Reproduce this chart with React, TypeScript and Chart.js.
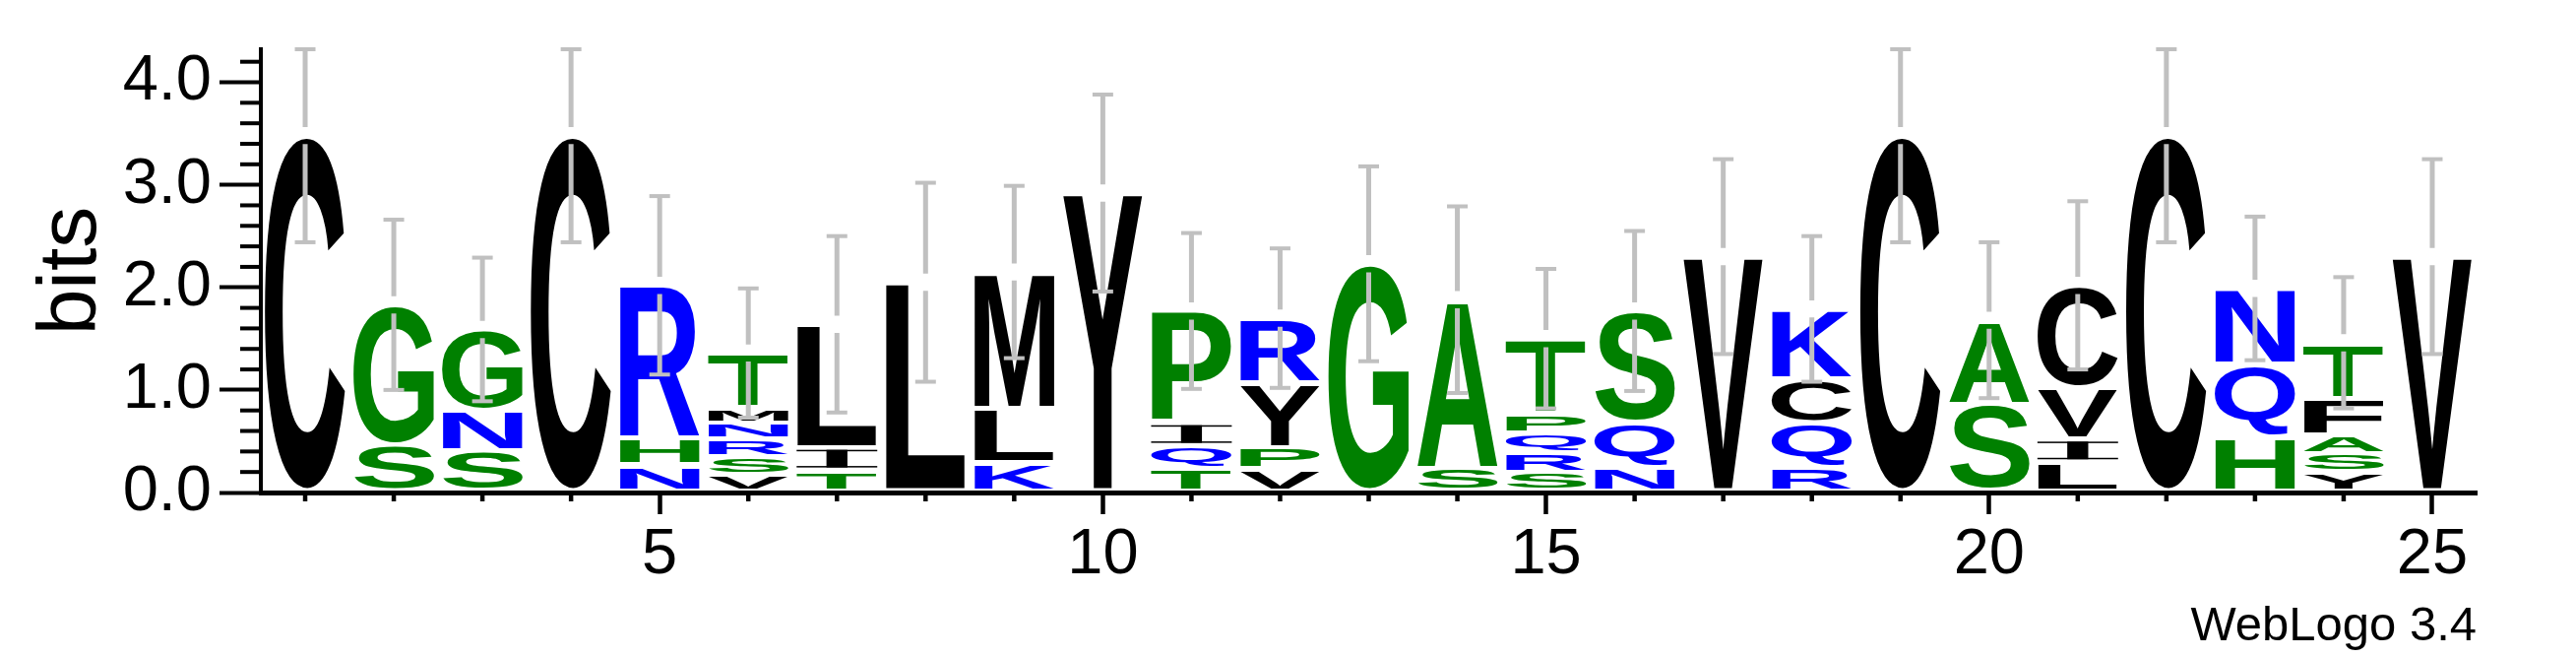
import { useEffect, useRef } from 'react';
import { Chart, registerables } from 'chart.js';

Chart.register(...registerables);

// sequence positions (x axis categories)
const positions = [
  '1', '2', '3', '4', '5', '6', '7', '8', '9', '10', '11', '12', '13',
  '14', '15', '16', '17', '18', '19', '20', '21', '22', '23', '24', '25',
];

// letters of each stack, bottom to top
const stackLetters = [
  ['C'],
  ['S', 'G'],
  ['S', 'N', 'G'],
  ['C'],
  ['N', 'H', 'R'],
  ['V', 'S', 'R', 'N', 'M', 'T'],
  ['T', 'I', 'L'],
  ['L'],
  ['K', 'L', 'M'],
  ['Y'],
  ['T', 'Q', 'I', 'P'],
  ['V', 'P', 'Y', 'R'],
  ['G'],
  ['S', 'A'],
  ['S', 'R', 'Q', 'P', 'T'],
  ['N', 'Q', 'S'],
  ['V'],
  ['R', 'Q', 'C', 'K'],
  ['C'],
  ['S', 'A'],
  ['L', 'I', 'V', 'C'],
  ['C'],
  ['H', 'Q', 'N'],
  ['Y', 'S', 'A', 'F', 'T'],
  ['V'],
];

// letter heights in bits, same order as stackLetters
const stackHeights = [
  [3.48],
  [0.47, 1.36],
  [0.41, 0.39, 0.79],
  [3.48],
  [0.27, 0.26, 1.49],
  [0.18, 0.17, 0.17, 0.16, 0.15, 0.53],
  [0.22, 0.22, 1.2],
  [2.05],
  [0.29, 0.53, 1.33],
  [2.92],
  [0.24, 0.22, 0.22, 1.09],
  [0.23, 0.21, 0.63, 0.63],
  [2.23],
  [0.24, 1.64],
  [0.2, 0.19, 0.19, 0.19, 0.73],
  [0.25, 0.43, 1.09],
  [2.3],
  [0.25, 0.43, 0.43, 0.68],
  [3.48],
  [0.86, 0.82],
  [0.3, 0.22, 0.5, 1.0],
  [3.48],
  [0.54, 0.71, 0.74],
  [0.2, 0.18, 0.18, 0.36, 0.54],
  [2.3],
];

// half length of the error bar on top of each stack (bits)
const errorBars = [
  1.04, 0.83, 0.7, 1.04, 0.87, 0.63, 0.86, 0.97, 0.84, 0.96, 0.76, 0.68, 0.95,
  0.91, 0.68, 0.78, 0.95, 0.71, 1.04, 0.76, 0.82, 1.04, 0.7, 0.64, 0.95,
];

const bitsMax = 4.3219; // log2(20)

const letterColors: Record<string, string> = {
  G: '#008000', S: '#008000', T: '#008000', H: '#008000', P: '#008000', A: '#008000',
  N: '#0000ff', R: '#0000ff', Q: '#0000ff', K: '#0000ff',
  C: '#000000', M: '#000000', V: '#000000', L: '#000000', I: '#000000', Y: '#000000', F: '#000000',
};

const FONT = '"Liberation Sans", Arial, Helvetica, sans-serif';
const isMajor = (v: number) => Math.abs(v - Math.round(v)) < 1e-6;

// stretch one glyph so its ink fills the box
function drawLetter(ctx: CanvasRenderingContext2D, ch: string, left: number, top: number, w: number, h: number) {
  if (h <= 0.5) return;
  ctx.save();
  ctx.fillStyle = letterColors[ch] || '#000';
  if (ch === 'I') {
    // serif style I, as WebLogo draws it
    const t = Math.max(1.5, h * 0.07);
    ctx.fillRect(left, top, w, t);
    ctx.fillRect(left, top + h - t, w, t);
    const sw = w * 0.26;
    ctx.fillRect(left + (w - sw) / 2, top, sw, h);
    ctx.restore();
    return;
  }
  ctx.font = `bold 100px ${FONT}`;
  ctx.textAlign = 'left';
  ctx.textBaseline = 'alphabetic';
  const m = ctx.measureText(ch);
  const inkW = m.actualBoundingBoxLeft + m.actualBoundingBoxRight;
  const inkH = m.actualBoundingBoxAscent + m.actualBoundingBoxDescent;
  ctx.translate(left, top);
  ctx.scale(w / inkW, h / inkH);
  ctx.fillText(ch, m.actualBoundingBoxLeft, m.actualBoundingBoxAscent);
  ctx.restore();
}

const logoPlugin = {
  id: 'logoPlugin',
  afterDatasetsDraw(chart: any) {
    const ctx: CanvasRenderingContext2D = chart.ctx;
    const yScale = chart.scales.y;
    const xScale = chart.scales.x;

    // letters
    chart.data.datasets.forEach((_ds: any, r: number) => {
      const meta = chart.getDatasetMeta(r);
      meta.data.forEach((el: any, i: number) => {
        const letter = stackLetters[i][r];
        if (!letter) return;
        const { x, y, base, width } = el.getProps(['x', 'y', 'base', 'width'], true);
        const insetBottom = r === 0 ? 4 : 2.5;
        const top = y + 2.5;
        const bottom = base - insetBottom;
        drawLetter(ctx, letter, x - width / 2, top, width, bottom - top);
      });
    });

    // error bars
    ctx.save();
    ctx.strokeStyle = '#c0c0c0';
    ctx.fillStyle = '#c0c0c0';
    ctx.lineWidth = 5;
    stackHeights.forEach((hs, i) => {
      const total = hs.reduce((a, b) => a + b, 0);
      const x = xScale.getPixelForValue(i);
      const yMid = yScale.getPixelForValue(total);
      const yTop = yScale.getPixelForValue(Math.min(total + errorBars[i], bitsMax));
      const yBot = yScale.getPixelForValue(Math.max(total - errorBars[i], 0));
      const gap = 8.7;
      ctx.beginPath();
      ctx.moveTo(x, yTop);
      ctx.lineTo(x, yMid - gap);
      ctx.moveTo(x, yMid + gap);
      ctx.lineTo(x, yBot);
      ctx.stroke();
      ctx.fillRect(x - 10.5, yTop - 2, 21, 4);
      ctx.fillRect(x - 10.5, yBot - 2, 21, 4);
    });
    ctx.restore();
  },
  afterDraw(chart: any) {
    const ctx: CanvasRenderingContext2D = chart.ctx;
    const { left, bottom, right } = chart.chartArea;
    const yScale = chart.scales.y;
    const xScale = chart.scales.x;
    ctx.save();
    ctx.strokeStyle = '#000';
    // minor ticks on the y axis
    ctx.lineWidth = 4;
    yScale.ticks.forEach((t: any) => {
      if (isMajor(t.value)) return;
      const py = yScale.getPixelForValue(t.value);
      ctx.beginPath();
      ctx.moveTo(left - 21, py);
      ctx.lineTo(left - 2, py);
      ctx.stroke();
    });
    // minor ticks on the x axis
    ctx.lineWidth = 4.5;
    positions.forEach((_p, i) => {
      if ((i + 1) % 5 === 0) return;
      const px = xScale.getPixelForValue(i);
      ctx.beginPath();
      ctx.moveTo(px, bottom + 2.5);
      ctx.lineTo(px, bottom + 9);
      ctx.stroke();
    });
    // caption
    ctx.fillStyle = '#000';
    ctx.font = `49px ${FONT}`;
    ctx.textAlign = 'right';
    ctx.textBaseline = 'alphabetic';
    ctx.fillText('WebLogo 3.4', right, 650);
    ctx.restore();
  },
};

function SequenceLogo() {
  const chartRef = useRef<HTMLCanvasElement>(null);
  const chartInstance = useRef<Chart | null>(null);

  useEffect(() => {
    if (!chartRef.current) return;
    if (chartInstance.current) {
      chartInstance.current.destroy();
    }
    const ctx = chartRef.current.getContext('2d');
    if (!ctx) return;

    // one dataset per stack level, bottom to top
    const levels = Math.max(...stackHeights.map(h => h.length));
    const datasets = [];
    for (let r = 0; r < levels; r++) {
      datasets.push({
        label: `level ${r + 1}`,
        data: stackHeights.map(h => h[r] ?? 0),
        backgroundColor: 'rgba(0,0,0,0)',
        borderWidth: 0,
        barPercentage: 0.91,
        categoryPercentage: 1,
      });
    }

    chartInstance.current = new Chart(ctx, {
      type: 'bar',
      data: { labels: positions, datasets },
      plugins: [logoPlugin],
      options: {
        responsive: true,
        maintainAspectRatio: false,
        animation: false,
        events: [],
        layout: { padding: { top: 50, right: 101, bottom: 0, left: 0 } },
        plugins: {
          legend: { display: false },
          title: { display: false },
          tooltip: { enabled: false },
        },
        scales: {
          x: {
            stacked: true,
            border: { display: true, color: '#000', width: 5 },
            grid: {
              offset: false,
              drawOnChartArea: false,
              drawTicks: true,
              tickLength: 22,
              tickWidth: 4.5,
              tickColor: (c: any) => ((c.index + 1) % 5 === 0 ? '#000' : 'rgba(0,0,0,0)'),
            },
            ticks: {
              autoSkip: false,
              maxRotation: 0,
              padding: 3,
              color: '#000',
              font: { family: FONT, size: 65 },
              callback: (_v: any, index: number) => ((index + 1) % 5 === 0 ? positions[index] : ''),
            },
            afterFit: (scale: any) => {
              scale.height = 167;
            },
          },
          y: {
            stacked: true,
            min: 0,
            max: bitsMax,
            border: { display: true, color: '#000', width: 4 },
            grid: {
              drawOnChartArea: false,
              drawTicks: true,
              tickLength: 42,
              tickWidth: 4,
              tickColor: (c: any) => (c.tick && isMajor(c.tick.value) ? '#000' : 'rgba(0,0,0,0)'),
            },
            ticks: {
              stepSize: 0.2,
              includeBounds: false,
              autoSkip: false,
              padding: 8,
              color: '#000',
              font: { family: FONT, size: 65 },
              callback: (v: any) => (isMajor(Number(v)) ? Number(v).toFixed(1) : ''),
            },
            title: {
              display: true,
              text: 'bits',
              color: '#000',
              font: { family: FONT, size: 84 },
              padding: { top: 23, bottom: 0 },
            },
            afterFit: (scale: any) => {
              scale.width = 265;
            },
          },
        },
      },
    });

    return () => {
      if (chartInstance.current) {
        chartInstance.current.destroy();
        chartInstance.current = null;
      }
    };
  }, []);

  return (
    <div style={{ position: 'fixed', left: 0, top: 0, width: '2617px', height: '667px', background: '#fff' }}>
      <canvas ref={chartRef}></canvas>
    </div>
  );
}

export default function App() {
  return <SequenceLogo />;
}
